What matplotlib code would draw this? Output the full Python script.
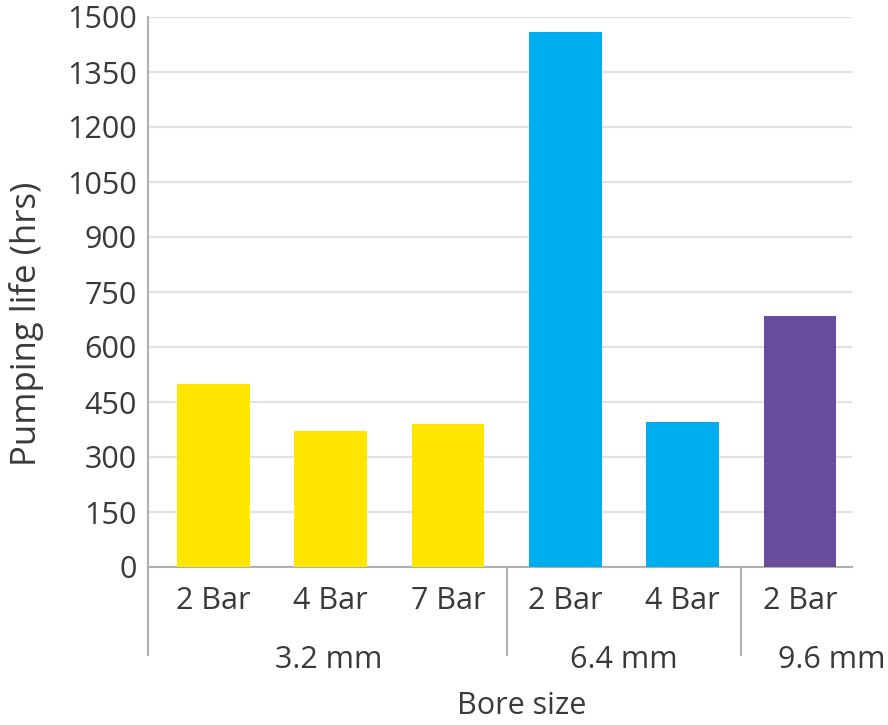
import matplotlib
matplotlib.use("Agg")
import matplotlib.pyplot as plt
import matplotlib.transforms as mtransforms

plt.rcParams['font.family'] = ['Open Sans', 'DejaVu Sans']

bar_labels = ["2 Bar", "4 Bar", "7 Bar", "2 Bar", "4 Bar", "2 Bar"]
values = [500, 370, 390, 1460, 395, 685]
groups = ["3.2 mm", "6.4 mm", "9.6 mm"]
group_sizes = [3, 2, 1]
group_colors = ["#FFE500", "#00AEEF", "#6A4C9C"]
yticks = [0, 150, 300, 450, 600, 750, 900, 1050, 1200, 1350, 1500]

text_color = "#3a3a3a"
axis_color = "#b0b0b0"
fs = 22

fig = plt.figure(figsize=(8.88, 7.25), dpi=100)
ax = fig.add_axes([148/888, 1-567/725, (852-148)/888, 550/725])

colors = []
for c, n in zip(group_colors, group_sizes):
    colors += [c] * n
x = list(range(len(values)))
ax.bar(x, values, width=0.62, color=colors, zorder=3)

ax.set_xlim(-0.556, 5.444)
ax.set_ylim(0, 1500)
ax.set_yticks(yticks)
ax.set_yticklabels([str(v) for v in yticks], fontsize=fs, color=text_color)
ax.tick_params(axis='y', length=0, pad=8)
ax.set_xticks(x)
ax.set_xticklabels(bar_labels, fontsize=fs, color=text_color)
ax.tick_params(axis='x', length=0, pad=14)
ax.grid(axis='y', color="#e2e2e2", linewidth=1.6, zorder=0)
ax.set_axisbelow(True)

for s in ['top', 'right']:
    ax.spines[s].set_visible(False)
ax.spines['left'].set_color(axis_color)
ax.spines['left'].set_linewidth(1.5)
ax.spines['bottom'].set_color(axis_color)
ax.spines['bottom'].set_linewidth(1.5)

trans = mtransforms.blended_transform_factory(ax.transData, ax.transAxes)
ext = -88/550
ax.plot([-0.556, -0.556], [0, ext], transform=trans, color=axis_color, lw=1.5, clip_on=False)
start = 0
for n in group_sizes[:-1]:
    start += n
    sx = start - 0.5
    ax.plot([sx, sx], [0, ext], transform=trans, color=axis_color, lw=1.5, clip_on=False)

group_pos = [0.98, 3.5, 5.27]
for g, gx in zip(groups, group_pos):
    ax.text(gx, -93/550, g, transform=trans, ha='center', va='center',
            fontsize=fs, color=text_color)

fig.text(27/888, 1-324/725, "Pumping life (hrs)", rotation=90, ha='center', va='center',
         fontsize=25, color=text_color)
ax.text(2.63, -139/550, "Bore size", transform=trans, ha='center', va='center',
        fontsize=fs, color=text_color)

fig.savefig("out.png", dpi=100)
